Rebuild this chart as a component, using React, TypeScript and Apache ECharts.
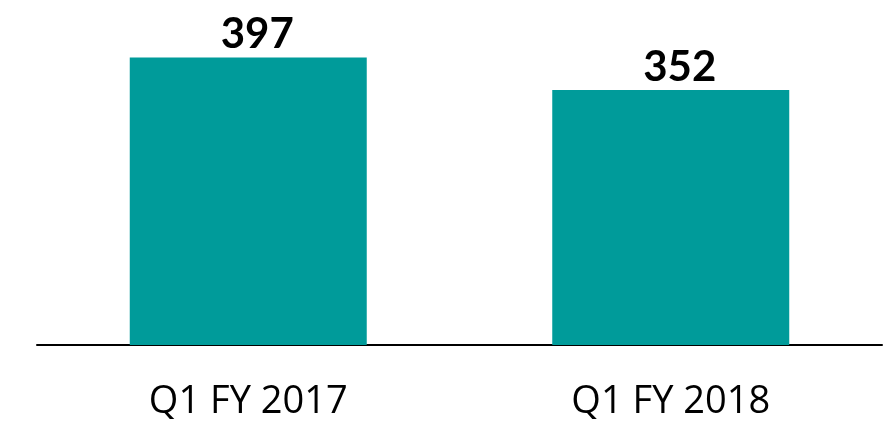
import React, { useEffect, useRef } from "react";
import * as echarts from "echarts";

const categories = ["Q1 FY 2017", "Q1 FY 2018"];
const values = [397, 352];

export default function App() {
  const ref = useRef<HTMLDivElement>(null);
  useEffect(() => {
    if (!ref.current) return;
    const chart = echarts.init(ref.current, undefined, { renderer: "svg" });
    chart.setOption({
      animation: false,
      grid: { left: 37, right: 11, top: 19, bottom: 78 },
      xAxis: {
        type: "category",
        data: categories,
        axisLine: { lineStyle: { color: "#000", width: 2 } },
        axisTick: { show: false },
        axisLabel: {
          color: "#000",
          fontFamily: "Open Sans",
          fontSize: 38,
          lineHeight: 38,
          margin: 34,
        },
      },
      yAxis: {
        type: "value",
        min: 0,
        max: 450,
        show: false,
        splitLine: { show: false },
      },
      series: [
        {
          type: "bar",
          data: values,
          barWidth: 237,
          itemStyle: { color: "#009B9A" },
          label: {
            show: true,
            position: "top",
            distance: 4,
            offset: [9, 0],
            color: "#000",
            fontFamily: "Lato",
            fontWeight: "bold",
            fontSize: 42,
          },
        },
      ],
    });
    return () => chart.dispose();
  }, []);
  return <div ref={ref} style={{ width: 893, height: 423, position: "fixed", left: 0, top: 0 }} />;
}
